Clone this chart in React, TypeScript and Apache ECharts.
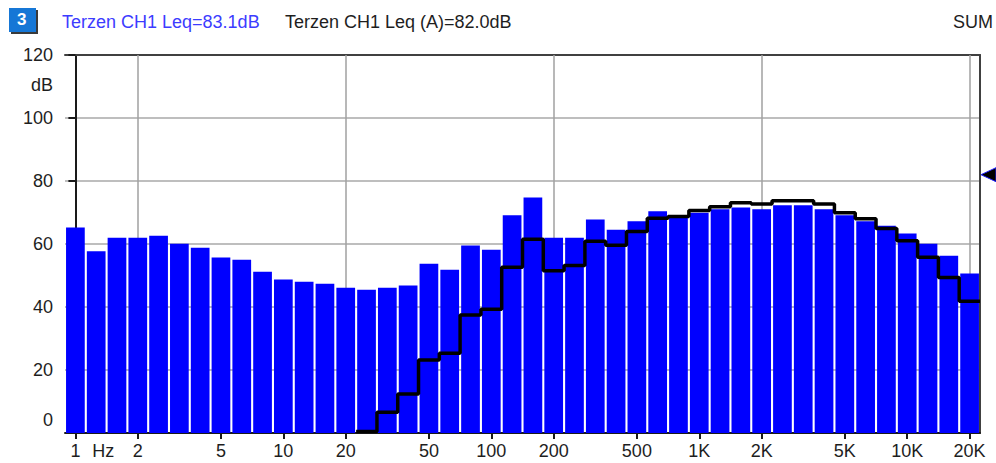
import React, { useEffect, useRef } from "react";
import * as echarts from "echarts";

const bands = [
  "1", "1.25", "1.6", "2", "2.5", "3.15", "4", "5", "6.3", "8",
  "10", "12.5", "16", "20", "25", "31.5", "40", "50", "63", "80",
  "100", "125", "160", "200", "250", "315", "400", "500", "630", "800",
  "1K", "1.25K", "1.6K", "2K", "2.5K", "3.15K", "4K", "5K", "6.3K", "8K",
  "10K", "12.5K", "16K", "20K",
];

const levelZ = [
  65.2, 57.7, 62.0, 62.0, 62.6, 60.1, 58.8, 55.7, 55.0, 51.2,
  48.7, 48.0, 47.4, 46.1, 45.5, 46.1, 46.8, 53.7, 51.8, 59.5,
  58.2, 69.1, 74.8, 62.0, 62.0, 67.8, 64.5, 67.2, 70.4, 68.6,
  69.9, 71.0, 71.6, 71.0, 72.3, 72.3, 71.0, 69.1, 67.2, 65.8,
  63.3, 60.1, 56.3, 50.6,
];

// A-weighted levels; bands below 25 Hz fall under the axis floor
const levelA: (number | null)[] = [
  null, null, null, null, null, null, null, null, null, null,
  null, null, null, null, 0.5, 6.6, 12.4, 23.2, 25.3, 37.5,
  39.3, 52.6, 61.5, 51.5, 53.2, 60.9, 59.6, 64.0, 68.2, 68.7,
  70.6, 71.8, 73.1, 72.7, 73.7, 73.7, 72.7, 69.9, 68.0, 64.9,
  61.0, 55.8, 49.4, 41.8,
];

const tickLabels: Record<string, string> = {
  "1": "1", "1.25": "Hz", "2": "2", "5": "5", "10": "10", "20": "20",
  "50": "50", "100": "100", "200": "200", "500": "500", "1K": "1K",
  "2K": "2K", "5K": "5K", "10K": "10K", "20K": "20K",
};
const gridBands = ["2", "20", "200", "2K", "20K"];
const yTicks = { min: 0, max: 120, interval: 20 };
const leqZ = 83.1;
const leqA = 82.0;

const FONT = "'Liberation Sans', Arial, sans-serif";
const FS = 18;
const TXT = "#1e1e1e";

export default function App() {
  const ref = useRef<HTMLDivElement>(null);
  useEffect(() => {
    if (!ref.current) return;
    const chart = echarts.init(ref.current, null, { renderer: "svg" });

    const stepData: [number, number][] = [];
    levelA.forEach((v, i) => {
      if (v !== null) stepData.push([i - 0.5, v]);
    });
    const lastA = levelA[levelA.length - 1] as number;
    stepData.push([levelA.length - 0.5, lastA]);

    const headerGraphics: any[] = [
      {
        id: "boxShadow", type: "rect", left: 11, top: 10,
        shape: { width: 27, height: 24 }, style: { fill: "#3a3a3a" },
      },
      {
        id: "box", type: "rect", left: 9, top: 8,
        shape: { width: 27, height: 24 }, style: { fill: "#1677d6" },
      },
      {
        id: "boxText", type: "text", left: 17, top: 11,
        style: { text: "3", fill: "#ffffff", font: `bold 17px ${FONT}` },
      },
      {
        id: "t1", type: "text", left: 62, top: 13,
        style: { text: `Terzen CH1 Leq=${leqZ.toFixed(1)}dB`, fill: "#3c3cff", font: `${FS}px ${FONT}` },
      },
      {
        id: "t2", type: "text", left: 285, top: 13,
        style: { text: `Terzen CH1 Leq (A)=${leqA.toFixed(1)}dB`, fill: TXT, font: `${FS}px ${FONT}` },
      },
      {
        id: "sum", type: "text", right: 3, top: 13,
        style: { text: "SUM", fill: TXT, font: `${FS}px ${FONT}` },
      },
      {
        id: "db", type: "text", left: 31, top: 76,
        style: { text: "dB", fill: TXT, font: `${FS}px ${FONT}` },
      },
    ];

    chart.setOption({
      animation: false,
      backgroundColor: "#ffffff",
      grid: { left: 65, right: 16, top: 55, bottom: 30, containLabel: false },
      xAxis: [
        {
          type: "category",
          data: bands,
          position: "bottom",
          axisLine: { show: true, lineStyle: { color: "#1a1a1a", width: 2 } },
          axisTick: {
            show: true,
            alignWithLabel: true,
            length: 6,
            lineStyle: { color: "#1a1a1a", width: 2 },
            interval: (i: number, v: string) => v in tickLabels && v !== "1.25",
          },
          axisLabel: {
            show: true,
            interval: (i: number, v: string) => v in tickLabels,
            formatter: (v: string) => (v === "1.25" ? "{hz|Hz}" : tickLabels[v] || ""),
            rich: { hz: { padding: [0, 0, 0, 14], fontSize: FS, fontFamily: FONT, color: TXT } },
            color: TXT,
            fontSize: FS,
            fontFamily: FONT,
            margin: 9,
          },
          splitLine: { show: false },
        },
        {
          type: "value",
          min: -0.5,
          max: bands.length - 0.5,
          position: "top",
          axisLine: { show: true, onZero: false, lineStyle: { color: "#404040", width: 2 } },
          axisTick: { show: false },
          axisLabel: { show: false },
          splitLine: { show: false },
        },
      ],
      yAxis: [
        {
          type: "value",
          min: yTicks.min,
          max: yTicks.max,
          interval: yTicks.interval,
          axisLine: { show: true, lineStyle: { color: "#1a1a1a", width: 2 } },
          axisTick: { show: true, length: 7, lineStyle: { color: "#1a1a1a", width: 2 } },
          axisLabel: {
            color: TXT,
            fontSize: FS,
            fontFamily: FONT,
            margin: 12,
            formatter: (v: number) => (v === 0 ? "{z|0}" : String(v)),
            rich: { z: { padding: [0, 0, 26, 0], fontSize: FS, fontFamily: FONT, color: TXT } },
          },
          splitLine: { show: true, lineStyle: { color: "#a8a8a8", width: 1.5 } },
        },
        {
          type: "value",
          min: yTicks.min,
          max: yTicks.max,
          interval: yTicks.interval,
          position: "right",
          axisLine: { show: true, onZero: false, lineStyle: { color: "#404040", width: 2 } },
          axisTick: { show: false },
          axisLabel: { show: false },
          splitLine: { show: false },
        },
      ],
      series: [
        {
          type: "bar",
          name: "Leq",
          data: levelZ,
          xAxisIndex: 0,
          yAxisIndex: 0,
          barCategoryGap: "10%",
          itemStyle: { color: "#0000ff" },
          z: 2,
          markLine: {
            silent: true,
            symbol: ["none", "none"],
            z: 1,
            label: { show: false },
            lineStyle: { color: "#a0a0a0", width: 1.5, type: "solid" },
            data: gridBands.map((b) => ({ xAxis: b })),
          },
        },
        {
          type: "line",
          name: "Leq (A)",
          data: stepData,
          xAxisIndex: 1,
          yAxisIndex: 0,
          step: "end",
          symbol: "none",
          lineStyle: { color: "#000000", width: 3.5 },
          z: 3,
        },
      ],
      graphic: headerGraphics,
    });

    const yPix = chart.convertToPixel({ yAxisIndex: 0 }, leqA) as number;
    const xPix = chart.convertToPixel({ xAxisIndex: 1 }, bands.length - 0.5) as number;
    chart.setOption({
      graphic: [
        ...headerGraphics,
        {
          id: "marker",
          type: "polygon",
          shape: {
            points: [
              [xPix + 1, yPix],
              [xPix + 16, yPix - 7],
              [xPix + 16, yPix + 7],
            ],
          },
          style: { fill: "#000000", stroke: "#2020ff", lineWidth: 1 },
        },
      ],
    });

    return () => chart.dispose();
  }, []);

  return (
    <div
      ref={ref}
      style={{ position: "fixed", left: 0, top: 0, width: 996, height: 463, background: "#fff" }}
    />
  );
}
